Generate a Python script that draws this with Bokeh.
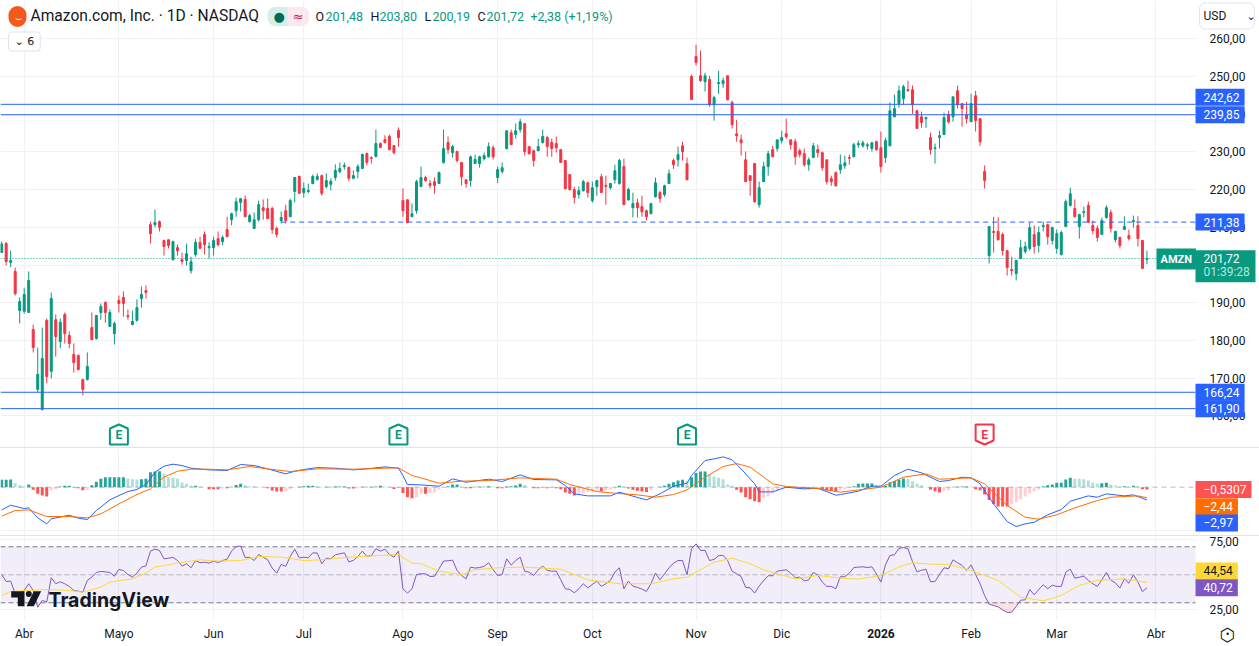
#
# Amazon daily candles with MACD and RSI panes, TradingView style
#
from bokeh.embed import file_html
from bokeh.layouts import column
from bokeh.models import FixedTicker, Label, Range1d
from bokeh.plotting import figure
from bokeh.resources import INLINE

# Bars are counted from the first trading day of April, the chart starts a bit before it
bars = list(range(-5, 250))

opens = [203.3, 205.7, 200.7, 198.3, 187.9, 187.7, 187.4, 182.9, 167.0, 161.7,
         185.3, 171.8, 185.5, 179.7, 186.9, 181.3, 176.3, 176.0, 169.6, 169.6,
         183.4, 180.5, 187.4, 190.1, 183.7, 181.8, 190.6, 191.4, 186.6, 184.2,
         185.3, 191.1, 193.2, 210.7, 210.7, 211.5, 206.5, 206.7, 201.4, 204.6,
         201.4, 201.2, 198.5, 202.8, 206.0, 208.1, 204.6, 204.6, 207.0, 206.2,
         209.4, 212.0, 214.4, 216.6, 217.4, 211.5, 209.7, 212.0, 215.2, 215.0,
         215.0, 209.7, 211.8, 214.4, 212.8, 219.5, 223.5, 219.2, 219.5, 221.6,
         222.7, 223.7, 220.8, 221.4, 223.2, 224.8, 226.1, 225.9, 223.0, 224.8,
         225.6, 229.6, 228.5, 228.8, 232.2, 233.3, 234.1, 231.7, 235.7, 217.1,
         217.3, 212.8, 214.4, 220.8, 223.2, 221.6, 222.1, 221.6, 227.2, 232.5,
         229.8, 230.1, 227.2, 222.6, 222.4, 226.9, 226.9, 228.2, 228.7, 231.1,
         223.2, 224.8, 230.9, 235.1, 234.6, 235.9, 237.5, 231.4, 230.3, 230.3,
         232.5, 233.8, 232.5, 232.2, 230.6, 227.7, 224.0, 220.0, 218.7, 219.7,
         221.8, 217.1, 220.8, 223.4, 221.1, 220.5, 222.6, 221.6, 226.1, 217.3,
         215.2, 216.5, 215.5, 214.4, 213.6, 218.1, 219.2, 218.7, 221.6, 227.7,
         227.9, 231.6, 226.9, 250.0, 255.3, 250.2, 248.6, 249.2, 242.5, 248.1,
         248.1, 250.2, 243.1, 234.8, 233.2, 227.9, 223.7, 226.9, 216.0, 222.1,
         226.1, 230.6, 230.9, 233.0, 234.8, 233.2, 232.7, 230.3, 229.5, 226.6,
         228.5, 230.6, 229.8, 227.9, 222.9, 224.5, 225.3, 226.3, 228.5, 228.7,
         231.9, 231.6, 231.6, 230.9, 232.7, 231.1, 228.5, 231.6, 239.3, 242.8,
         244.1, 246.5, 246.5, 240.9, 239.3, 238.8, 233.8, 230.9, 233.8, 234.6,
         239.9, 239.3, 246.2, 242.8, 239.9, 238.0, 244.9, 238.8, 224.8, 202.5,
         208.9, 208.9, 208.1, 203.8, 198.8, 197.7, 201.7, 203.6, 204.4, 208.1,
         205.2, 210.2, 210.7, 206.5, 204.4, 202.8, 210.2, 215.8, 215.0, 210.2,
         213.9, 215.8, 210.5, 209.7, 208.1, 212.6, 213.9, 206.7, 207.3, 209.4,
         207.8, 211.5, 210.5, 206.5, 201.48]

highs = [206.2, 206.1, 203.8, 199.3, 191.4, 194.0, 198.3, 184.2, 178.1, 183.4,
         185.8, 192.7, 186.9, 185.8, 187.4, 182.4, 179.2, 176.3, 169.6, 176.8,
         187.4, 186.6, 189.8, 190.3, 188.2, 185.0, 191.9, 193.0, 188.2, 187.9,
         190.9, 194.3, 194.6, 211.5, 214.7, 211.8, 206.7, 206.7, 206.5, 205.4,
         203.3, 205.7, 202.2, 207.0, 207.5, 208.9, 206.0, 207.5, 208.9, 207.8,
         212.8, 213.9, 217.9, 217.6, 218.4, 213.6, 213.9, 217.1, 217.4, 217.6,
         215.5, 210.2, 214.2, 216.0, 217.6, 223.2, 223.7, 221.9, 221.6, 224.0,
         224.3, 224.0, 224.3, 223.0, 226.7, 227.2, 227.2, 226.1, 225.1, 226.7,
         229.6, 229.8, 228.8, 235.9, 232.5, 234.4, 234.6, 231.7, 236.5, 220.3,
         217.3, 216.3, 222.6, 226.1, 223.7, 222.6, 223.2, 224.8, 235.9, 234.1,
         231.9, 230.3, 227.2, 222.6, 229.0, 229.3, 229.0, 229.8, 232.5, 231.7,
         226.1, 227.2, 235.6, 235.9, 237.5, 238.8, 237.5, 231.4, 230.6, 233.5,
         235.9, 234.3, 233.5, 234.1, 230.6, 227.7, 224.0, 220.8, 220.8, 222.6,
         222.1, 222.1, 222.6, 224.2, 223.7, 221.8, 226.6, 228.2, 228.2, 220.5,
         219.2, 217.6, 218.4, 214.7, 216.5, 223.2, 219.7, 221.3, 225.3, 228.2,
         231.4, 232.7, 228.5, 250.5, 258.4, 256.9, 251.0, 250.2, 244.9, 251.5,
         249.7, 250.2, 243.6, 238.5, 234.6, 230.1, 223.7, 227.1, 222.1, 227.4,
         230.3, 231.6, 233.2, 235.6, 238.8, 233.2, 233.5, 230.9, 230.9, 228.5,
         232.4, 231.9, 230.1, 227.9, 223.7, 224.8, 229.3, 229.0, 229.3, 232.4,
         233.0, 233.0, 232.4, 232.7, 233.0, 235.4, 233.8, 243.1, 245.2, 247.6,
         247.8, 248.9, 247.6, 241.2, 240.7, 239.3, 235.1, 232.2, 235.6, 240.4,
         240.9, 244.6, 247.6, 242.8, 243.3, 245.4, 246.2, 238.8, 226.4, 210.2,
         212.8, 212.6, 208.6, 203.8, 202.2, 201.4, 206.7, 206.2, 211.2, 210.5,
         210.2, 211.5, 211.0, 210.2, 209.4, 209.1, 217.4, 220.5, 217.4, 213.4,
         215.5, 216.8, 211.8, 210.5, 212.6, 215.8, 214.7, 209.1, 207.5, 212.9,
         209.4, 213.1, 212.9, 206.5, 203.8]

lows = [203.3, 199.9, 199.4, 191.9, 184.5, 187.1, 187.4, 176.8, 166.2, 161.4,
        168.6, 169.9, 175.7, 177.9, 179.2, 177.9, 171.5, 172.0, 165.4, 169.4,
        180.2, 180.2, 185.5, 184.7, 183.7, 178.9, 187.4, 186.3, 185.5, 184.0,
        185.0, 188.7, 191.1, 205.7, 210.0, 208.9, 202.5, 204.4, 201.2, 202.5,
        200.1, 199.9, 197.7, 202.2, 204.4, 202.8, 201.7, 202.5, 204.9, 205.2,
        207.5, 210.5, 212.8, 214.2, 212.8, 211.3, 209.7, 211.5, 212.0, 212.3,
        208.3, 207.3, 211.0, 211.0, 212.8, 216.6, 219.0, 217.9, 219.0, 221.4,
        222.4, 218.4, 220.3, 219.8, 222.4, 224.3, 225.3, 222.2, 222.7, 223.0,
        225.6, 226.4, 226.9, 228.5, 231.2, 232.2, 230.4, 229.3, 231.4, 212.8,
        211.2, 212.8, 213.6, 220.8, 222.1, 220.3, 218.9, 221.6, 226.9, 229.5,
        228.5, 227.2, 221.1, 220.5, 220.8, 226.9, 225.8, 227.7, 228.5, 228.0,
        221.8, 224.2, 230.6, 231.9, 233.5, 235.1, 229.0, 229.3, 226.1, 230.3,
        232.2, 228.7, 228.7, 229.8, 227.2, 220.0, 219.7, 216.3, 217.6, 219.5,
        217.9, 216.5, 218.4, 219.2, 216.0, 220.0, 221.6, 221.3, 216.0, 217.1,
        212.6, 212.6, 212.8, 211.8, 213.6, 217.9, 216.5, 218.1, 221.6, 225.5,
        226.1, 227.7, 222.6, 243.9, 252.9, 248.6, 246.0, 242.0, 238.3, 245.4,
        247.0, 243.6, 236.2, 232.7, 229.0, 222.1, 218.4, 216.5, 215.2, 222.1,
        223.7, 228.7, 230.1, 232.2, 233.5, 230.6, 226.6, 228.5, 226.1, 225.0,
        228.5, 228.5, 225.0, 221.3, 221.0, 220.8, 224.2, 225.5, 226.6, 228.7,
        231.1, 231.1, 230.6, 230.1, 230.3, 224.5, 227.1, 231.6, 239.3, 241.7,
        242.5, 246.0, 240.1, 236.2, 236.4, 236.4, 229.3, 226.9, 230.9, 234.6,
        237.5, 238.0, 241.5, 236.7, 237.5, 238.0, 235.4, 231.6, 220.3, 200.4,
        203.3, 206.5, 202.5, 197.2, 197.2, 195.9, 201.7, 203.0, 203.8, 203.0,
        203.3, 208.9, 205.4, 205.4, 203.0, 202.5, 210.2, 215.5, 212.6, 207.0,
        212.6, 211.3, 208.1, 206.2, 208.1, 212.3, 208.6, 206.0, 204.4, 209.4,
        206.5, 209.9, 204.9, 199.1, 200.19]

closes = [205.6, 200.9, 201.2, 192.4, 190.3, 192.2, 195.9, 178.1, 171.0, 175.2,
          170.4, 191.1, 181.0, 184.8, 181.8, 179.2, 174.1, 172.3, 167.0, 173.1,
          180.2, 186.6, 189.0, 187.4, 187.4, 184.5, 189.8, 189.8, 186.3, 185.0,
          188.7, 192.2, 192.7, 208.3, 211.3, 210.0, 204.9, 205.2, 206.2, 203.8,
          200.9, 203.0, 200.9, 206.0, 204.4, 205.4, 204.9, 206.5, 205.4, 207.3,
          207.5, 213.6, 216.8, 217.6, 212.8, 213.1, 212.0, 216.0, 214.4, 212.3,
          209.4, 208.1, 212.6, 211.8, 217.1, 223.2, 219.0, 220.3, 219.8, 223.5,
          223.5, 219.0, 222.4, 222.2, 225.1, 225.6, 226.4, 223.0, 223.7, 226.1,
          229.3, 227.2, 228.3, 232.2, 231.2, 232.5, 230.6, 229.8, 233.8, 214.4,
          211.2, 213.6, 222.1, 223.2, 222.4, 221.1, 221.1, 224.5, 230.9, 230.6,
          231.4, 227.7, 223.4, 221.6, 228.7, 228.0, 228.7, 229.0, 231.4, 228.7,
          225.3, 225.8, 235.6, 231.9, 235.6, 238.0, 230.1, 229.5, 227.7, 231.4,
          234.1, 231.4, 230.9, 231.1, 227.2, 220.3, 220.0, 217.9, 219.7, 222.1,
          219.2, 220.5, 222.4, 219.2, 220.8, 221.6, 225.0, 227.7, 216.0, 220.0,
          216.3, 215.2, 214.1, 212.8, 216.3, 221.8, 217.6, 221.0, 224.2, 226.6,
          229.3, 230.1, 222.6, 243.9, 253.7, 248.9, 250.2, 242.5, 244.4, 248.4,
          248.9, 243.9, 237.2, 234.3, 232.4, 222.1, 222.4, 216.8, 220.5, 226.1,
          229.5, 228.7, 233.2, 233.8, 234.0, 231.9, 228.7, 229.3, 226.6, 227.9,
          231.6, 229.8, 225.8, 222.1, 222.1, 221.0, 226.6, 227.1, 228.3, 231.9,
          232.2, 232.4, 231.9, 232.4, 230.6, 226.1, 233.0, 240.9, 241.5, 246.2,
          247.3, 246.2, 242.5, 236.2, 237.8, 239.1, 230.6, 231.1, 234.3, 239.1,
          238.0, 244.6, 242.5, 241.5, 238.8, 242.8, 238.3, 232.7, 222.4, 210.2,
          208.6, 206.7, 203.8, 199.3, 198.5, 201.2, 204.6, 204.9, 209.9, 204.9,
          208.6, 210.5, 207.5, 209.9, 208.3, 208.6, 216.8, 218.9, 212.8, 213.4,
          214.2, 211.3, 209.1, 207.3, 211.8, 215.2, 209.7, 208.9, 205.2, 210.2,
          207.0, 211.8, 207.0, 199.1, 201.72]

# Support and resistance lines
level_lines = [242.62, 239.85, 166.24, 161.90]
dashed_level = 211.38
dashed_level_start = 57
last_price = 201.72

# Earnings flags
earning_bars = [21, 83, 147, 213]
earning_beats = [True, True, True, False]

# MACD histogram for every bar
histogram = [1.71, 1.71, 1.78, .93, .47, .23, .62, -.62, -1.55, -1.94,
             -2.17, -.7, -.47, .16, .31, .31, -.08, -.23, -.7, -.62,
             .47, 1.24, 1.94, 2.33, 2.33, 2.33, 2.33, 2.33, 2.02, 1.86,
             1.78, 1.86, 1.94, 3.49, 3.64, 3.72, 3.1, 2.33, 2.17, 1.94,
             1.09, .78, .31, .31, .16, 0, -.47, -.47, -.47, -.23,
             -.23, .08, .54, .78, .47, .23, .16, .08, 0, -.23,
             -.78, -1.01, -1.01, -.93, -.47, -.08, .08, .23, .31, .31,
             .23, .08, .08, .08, .16, .16, .16, -.31, -.31, -.23,
             .08, .08, .08, .16, .31, .16, .08, -.39, .04, -1.32,
             -2.33, -2.56, -2.33, -1.55, -1.55, -1.4, -1.24, -.54, -.08, .23,
             .62, .62, .08, -.23, -.23, .08, .08, .08, .23, .16,
             -.23, -.23, .16, .23, .39, .78, .54, 0, -.23, -.23,
             -.16, -.23, -.16, -.23, -.47, -1.24, -1.55, -1.94, -1.55, -1.4,
             -1.09, -.93, -.78, -.93, -.7, -.54, -.31, .31, .16, -.31,
             -.62, -.85, -1.01, -1.09, -.62, -.08, .08, .31, .78, 1.16,
             1.55, 1.71, 1.4, 2.33, 3.33, 3.64, 3.64, 2.95, 2.48, 2.17,
             1.86, .62, .31, -.62, -1.24, -2.33, -2.79, -3.26, -3.49, -2.48,
             -2.17, -1.4, -.78, -.23, 0, -.16, -.16, -.31, -.31, -.47,
             -.23, -.16, -.62, -.78, -.85, -.93, -.7, -.54, -.16, .23,
             .78, .85, .85, .85, .47, .31, .31, 1.09, 1.47, 1.71,
             2.02, 1.94, 1.4, .78, .39, 0, -.54, -.93, -1.24, -.85,
             -.7, .08, .08, .16, .16, .08, -.47, -.7, -1.71, -2.95,
             -3.88, -4.5, -4.5, -4.5, -3.88, -3.49, -2.79, -2.17, -1.47, -.93,
             -.62, .23, .47, .62, 1.01, 1.01, 1.78, 2.17, 2.02, 1.94,
             1.86, 1.55, 1.09, .78, .93, 1.01, .62, .39, .16, .23,
             .08, .31, .23, -.47, -.53]

# MACD and signal, read at the bars where the lines bend
macd_bars = [-5, -3, 0, 1, 3, 5, 6, 10, 12, 14, 16, 19, 21, 23, 25, 27, 29, 31, 33, 35,
             37, 41, 45, 48, 51, 54, 58, 60, 62, 65, 69, 73, 76, 80, 83, 84, 85, 88,
             92, 95, 98, 103, 106, 110, 113, 118, 120, 122, 125, 130, 132, 135, 138, 141,
             144, 147, 148, 151, 153, 155, 157, 159, 162, 163, 166, 169, 173, 176, 180, 181,
             185, 188, 190, 193, 196, 199, 203, 205, 208, 210, 212, 215, 218, 220, 222, 224,
             227, 230, 232, 236, 238, 240, 244, 246, 249]
macd_values = [-5.27, -4.19, -4.96, -4.81, -7.13, -8.53, -7.36, -6.51, -7.21, -7.52,
               -5.43, -2.95, -1.94, -1.01, -.54, .62, 3.49, 4.88, 5.35, 5.04,
               4.42, 4.03, 3.88, 5.27, 5.04, 4.26, 3.10, 3.72, 4.11, 4.57,
               4.42, 4.03, 4.26, 4.73, 4.42, 2.71, .62, .54,
               .23, 1.94, 1.16, 1.86, 1.32, 2.87, 1.78, 1.71, .39, -1.55, -2.02, -2.02,
               -1.16, -2.09, -2.95, -1.55, .23, .93, 2.71, 6.2, 6.59, 7.05, 6.36, 4.26,
               .78, -1.09, -1.09, 0, -.39, -.23, -1.86, -1.71,
               -.93, .23, .23, 2.71, 4.19, 3.33, 1.32, 1.55, 2.33, 2.17, .78, -3.88,
               -7.98, -9.15, -8.53, -8.14, -6.43, -5.19, -3.26, -2.02, -2.33, -1.55,
               -2.02, -1.78, -2.97]
signal_bars = [-5, -2, 1, 5, 10, 14, 17, 21, 25, 28, 31, 34, 37, 41, 45, 50, 54, 59, 65, 73,
               83, 86, 88, 92, 97, 103, 110, 118, 121, 127, 131, 136, 140, 144, 147, 151,
               155, 158, 161, 166, 169, 176, 181, 190, 195, 200, 203, 210, 213, 218, 222,
               225, 229, 233, 238, 241, 247, 249]
signal_values = [-6.74, -5.43, -5.27, -6.82, -6.82, -7.13, -6.2, -3.88, -1.71, -.39,
                 2.33, 3.72, 4.19, 4.19, 4.03, 4.81, 4.26, 3.64, 4.26, 4.19,
                 4.5, 2.71, 2.17, .93, 1.4, 1.55, 2.17, 1.86, .62, -1.01, -1.4, -1.78,
                 -2.33, -1.71, -.62, 2.33, 4.81, 5.5, 4.65, .78, .16, -.31, -1.16, 0,
                 2.33, 3.1, 1.86, 2.17, .78, -4.26, -6.98, -7.44, -6.43, -4.81, -3.1,
                 -2.33, -2.02, -2.44]

# RSI for every bar
rsi = [50.2, 45.2, 45.5, 36.4, 36.0, 38.8, 43.6, 38.8, 26.9, 31.7,
       30.5, 47.9, 43.6, 45.0, 43.6, 41.7, 38.8, 38.3, 37.6, 46.0,
       48.3, 51.7, 52.4, 52.1, 51.7, 49.0, 53.8, 53.1, 50.2, 48.3,
       51.2, 55.5, 56.4, 66.9, 68.3, 67.4, 61.4, 61.9, 62.4, 60.2,
       56.2, 57.9, 55.0, 60.2, 58.6, 59.0, 58.3, 59.8, 58.8, 60.2,
       61.2, 66.9, 70.2, 70.5, 62.4, 62.4, 60.2, 64.5, 62.6, 60.7,
       54.8, 51.2, 57.4, 56.0, 63.1, 68.3, 62.1, 62.6, 62.1, 65.7,
       65.5, 57.9, 61.9, 61.4, 64.3, 65.0, 65.7, 59.3, 60.2, 63.1,
       66.9, 63.1, 63.8, 68.6, 66.9, 68.3, 64.5, 62.6, 66.9, 40.0,
       36.9, 40.0, 50.2, 50.7, 50.7, 48.8, 49.0, 54.3, 59.8, 60.0,
       60.5, 53.1, 49.5, 47.1, 55.5, 54.8, 55.2, 56.0, 58.6, 53.6,
       49.5, 50.2, 61.4, 56.9, 60.2, 62.6, 52.6, 51.9, 49.5, 53.6,
       56.2, 53.1, 52.6, 52.6, 46.4, 40.0, 39.5, 37.1, 40.0, 43.6,
       40.7, 43.1, 45.5, 41.7, 43.6, 46.0, 51.9, 55.0, 40.0, 45.5,
       41.9, 41.0, 39.8, 38.1, 43.6, 51.2, 46.4, 50.7, 55.0, 58.3,
       60.2, 60.2, 50.0, 68.6, 72.1, 67.4, 67.4, 60.2, 61.0, 63.6,
       64.0, 60.2, 52.6, 50.7, 48.8, 41.0, 40.7, 36.9, 41.9, 46.0,
       49.3, 49.3, 52.6, 53.1, 53.6, 51.2, 47.9, 48.3, 45.7, 46.4,
       51.7, 49.8, 44.8, 41.7, 41.7, 40.0, 48.6, 48.6, 51.2, 55.2,
       55.5, 55.7, 55.2, 55.7, 50.7, 44.8, 57.1, 63.8, 64.3, 68.8,
       69.5, 68.6, 59.5, 52.1, 53.3, 53.8, 45.0, 45.2, 50.2, 55.0,
       54.3, 60.7, 58.6, 56.7, 53.1, 57.1, 50.2, 43.6, 35.2, 29.0,
       28.1, 27.1, 25.0, 23.1, 23.3, 27.4, 31.9, 32.1, 39.5, 35.7,
       39.5, 42.9, 40.0, 42.6, 41.7, 41.7, 51.9, 54.0, 47.6, 48.3,
       49.0, 46.0, 43.6, 41.7, 46.4, 51.7, 46.0, 44.3, 40.5, 47.1,
       44.0, 50.0, 44.8, 37.9, 40.72]

# RSI moving average, read at the bars where it bends
rsi_ma_bars = [-5, -3, 1, 5, 10, 13, 17, 19, 24, 27, 29, 34, 39, 43, 48, 52, 57, 62, 66, 72,
               79, 83, 86, 88, 92, 97, 100, 105, 111, 119, 125, 132, 139, 144, 147, 153,
               157, 161, 164, 171, 176, 181, 185, 190, 194, 197, 201, 205, 210, 216, 221,
               226, 230, 234, 238, 244, 249]
rsi_ma_values = [35.2, 38.1, 38.8, 39.5, 38.8, 37.6, 41.2, 44.8, 47.1, 51.2, 55.5, 58.3,
                 60.7, 59.8, 60.2, 63.1, 62.6, 60.2, 60.7, 62.6, 63.8, 64.5, 58.3, 57.9,
                 52.6, 50.2, 53.6, 55.0, 55.5, 54.0, 46.4, 43.6, 43.6, 47.1, 48.3, 59.0,
                 61.9, 57.9, 53.6, 47.1, 49.5, 47.6, 46.9, 49.5, 55.5, 58.6, 57.6, 57.4,
                 53.1, 46.0, 34.0, 31.4, 35.2, 42.4, 46.0, 47.1, 44.54]

# Axis ticks and labels
month_ticks = [0, 21, 42, 62, 84, 105, 126, 149, 168, 190, 210, 229, 251]
month_labels = ['Abr', 'Mayo', 'Jun', 'Jul', 'Ago', 'Sep', 'Oct', 'Nov', 'Dic', '', 'Feb', 'Mar', 'Abr']
year_tick = 190
year_label = '2026'
price_ticks = [160, 170, 180, 190, 200, 210, 220, 230, 240, 250, 260]
price_tick_labels = ['160,00', '170,00', '180,00', '190,00', '200,00', '210,00', '220,00',
                     '230,00', '240,00', '250,00', '260,00']
# The -10 label sits behind the value tags in this pane, only its grid line shows
macd_ticks = [-10]
macd_tick_labels = ['']
rsi_ticks = [25, 75]
rsi_tick_labels = ['25,00', '75,00']

GREEN = '#089981'
RED = '#F23645'
BLUE = '#2962FF'
ORANGE = '#FF6D00'
PURPLE = '#7E57C2'
YELLOW = '#FDD835'
GRID = '#f1f1f1'
INK = '#131722'
FONT = 'Roboto'

# These helpers turn window pixels into chart values for the decorations
def barAt(px):
    return (px - 23.7) / 4.509

def priceAt(py):
    return 160 + (415.3 - py) / 3.77

def macdAt(py):
    return (486.7 - py) / 4.3

def rsiAt(py):
    return 70 - (py - 546.3) / 1.4

PLOT_LEFT = barAt(0)
PLOT_RIGHT = barAt(1195)
x_range = Range1d(barAt(0), barAt(1259))

# The frame fills each pane, the value axis is pinned inside it so tags can sit on top
def makePane(height, y_range, ticks, tick_labels):
    p = figure(width=1259, height=height, x_range=x_range, y_range=y_range,
               output_backend='svg', toolbar_location=None, tools='',
               y_axis_location='right',
               min_border_left=0, min_border_top=0, min_border_bottom=0, min_border_right=0)
    p.outline_line_color = None
    p.background_fill_color = 'white'
    p.xgrid.ticker = FixedTicker(ticks=month_ticks)
    p.ygrid.ticker = FixedTicker(ticks=ticks)
    p.xgrid.grid_line_color = GRID
    p.ygrid.grid_line_color = GRID
    p.ygrid.cross_bounds = (PLOT_LEFT, PLOT_RIGHT)
    p.yaxis.fixed_location = PLOT_RIGHT
    p.yaxis.ticker = FixedTicker(ticks=ticks)
    p.yaxis.major_label_overrides = dict(zip(ticks, tick_labels))
    p.yaxis.axis_line_color = None
    p.yaxis.major_tick_line_color = None
    p.yaxis.minor_tick_line_color = None
    p.yaxis.major_label_standoff = 8
    p.yaxis.major_label_text_font = FONT
    p.yaxis.major_label_text_font_size = '12px'
    p.yaxis.major_label_text_color = INK
    p.xaxis.visible = False
    return p

def addText(p, x, y, text, color=INK, size='12px', font=FONT, **kw):
    p.add_layout(Label(x=x, y=y, text=text, text_color=color, text_font=font,
                       text_font_size=size, text_baseline='middle', **kw))

# Coloured value tag on the right axis, padding runs left, right, top, bottom
def addTag(p, y, text, color, y_offset=0, text_color='white'):
    addText(p, barAt(1195), y, text, color=text_color, y_offset=y_offset,
            background_fill_color=color, padding=(8, 5, 4, 4))

def addLevel(p, y, **kw):
    p.line([PLOT_LEFT, PLOT_RIGHT], [y, y], line_width=1, **kw)

#
# Price pane
#
p1 = makePane(447, Range1d(priceAt(447), priceAt(0)), price_ticks, price_tick_labels)

bar_colors = [GREEN if c >= o else RED for o, c in zip(opens, closes)]
p1.segment(bars, lows, bars, highs, line_color=bar_colors, line_width=1)
p1.vbar(x=bars, bottom=opens, top=closes, width=0.44, fill_color=bar_colors, line_color=bar_colors, line_width=1)

for level in level_lines:
    addLevel(p1, level, line_color=BLUE)
p1.line([dashed_level_start, PLOT_RIGHT], [dashed_level, dashed_level], line_color=BLUE, line_width=1, line_dash=[5, 4])
addLevel(p1, last_price, line_color=GREEN, line_dash=[1, 2])

# Earnings flags sit just above the MACD pane
flag_outline = [(-9, -6), (0, -10), (9, -6), (9, 10), (-9, 10)]
for bar, beat in zip(earning_bars, earning_beats):
    color = GREEN if beat else RED
    flip = 1 if beat else -1
    p1.patch([bar + dx / 4.509 for dx, dy in flag_outline],
             [priceAt(434 + flip * dy) for dx, dy in flag_outline],
             fill_color='white', line_color=color, line_width=2)
    addText(p1, bar, priceAt(434.5), 'E', color=color, text_align='center', text_font_style='bold')

addTag(p1, 242.62, '242,62', BLUE, y_offset=7)
addTag(p1, 239.85, '239,85', BLUE)
addTag(p1, dashed_level, '211,38', BLUE)
addTag(p1, 166.24, '166,24', BLUE)
addTag(p1, 161.90, '161,90', BLUE)

# Last price block: ticker tag, price and countdown
addText(p1, barAt(1156), priceAt(258.6), 'AMZN', color='white', size='11px', text_font_style='bold',
        background_fill_color=GREEN, padding=(4, 4, 4, 4))
addText(p1, barAt(1195), priceAt(265.8), ' ', color='white', background_fill_color=GREEN, padding=(8, 49, 9, 9))
addText(p1, barAt(1203), priceAt(257.5), '201,72', color='white')
addText(p1, barAt(1203), priceAt(271.7), '01:39:28', color='#b8e6dc')

# Header line
addText(p1, barAt(8), priceAt(16), '\u2323', color='white', size='11px', font='DejaVu Sans',
        background_fill_color='#F4581C', border_radius=9, padding=(6, 5, 5, 3))
addText(p1, barAt(30), priceAt(15.5), 'Amazon.com, Inc. \u00b7 1D \u00b7 NASDAQ', size='15.6px')
addText(p1, barAt(267), priceAt(16), '\u25cf', color='#006A58', size='13px', font='DejaVu Sans',
        background_fill_color='#D5EEE9', border_radius=(8, 0, 0, 8), padding=(6, 6, 2, 2))
addText(p1, barAt(287), priceAt(16), '\u2248', color='#C2185B', size='13px', font='DejaVu Sans',
        background_fill_color='#FCE8EF', border_radius=(0, 8, 8, 0), padding=(5, 6, 2, 2))
ohlc_letters = [('O', 315), ('H', 370), ('L', 424), ('C', 477)]
ohlc_values = [('201,48', 325), ('203,80', 379), ('200,19', 432), ('201,72', 486)]
for letter, px in ohlc_letters:
    addText(p1, barAt(px), priceAt(15.5), letter, size='12.5px')
for value, px in ohlc_values:
    addText(p1, barAt(px), priceAt(15.5), value, color=GREEN, size='12.5px')
addText(p1, barAt(530), priceAt(15.5), '+2,38 (+1,19%)', color=GREEN, size='12.5px')

# Collapsed indicators button and currency selector
addText(p1, barAt(8), priceAt(41), '\u2304 6', size='11px', font='DejaVu Sans',
        border_line_color='#e0e3eb', background_fill_color='white', border_radius=3, padding=(6, 6, 3, 3))
addText(p1, barAt(1199), priceAt(15.5), 'USD', border_line_color='#e0e3eb',
        background_fill_color='white', border_radius=6, padding=(4, 28, 6, 6))
addText(p1, barAt(1246), priceAt(15.5), '\u2304', size='11px', font='DejaVu Sans')

#
# MACD pane, the top border pushes its canvas down by a pixel
#
p2 = makePane(88, Range1d(macdAt(536), macdAt(448)), macd_ticks, macd_tick_labels)
p2.styles = {'border-top': '1px solid #e0e3eb', 'box-sizing': 'border-box'}

hist_colors = []
previous = 0
for value in histogram:
    if value >= 0:
        hist_colors.append('#26A69A' if value >= previous else '#B2DFDB')
    else:
        hist_colors.append('#FF5252' if value <= previous else '#FFCDD2')
    previous = value
p2.vbar(x=bars, bottom=0, top=histogram, width=0.66, fill_color=hist_colors, line_color=None)
addLevel(p2, 0, line_color='#787B86', line_alpha=0.5, line_dash=[5, 4])
p2.line(macd_bars, macd_values, line_color=BLUE, line_width=1)
p2.line(signal_bars, signal_values, line_color=ORANGE, line_width=1)

addTag(p2, histogram[-1], '\u22120,5307', '#FF5252')
addTag(p2, signal_values[-1], '\u22122,44', ORANGE, y_offset=-9)
addTag(p2, macd_values[-1], '\u22122,97', BLUE, y_offset=-23)

#
# RSI pane, carries the time axis
#
p3 = makePane(111, Range1d(rsiAt(647), rsiAt(536)), rsi_ticks, rsi_tick_labels)
p3.styles = {'border-top': '1px solid #e0e3eb', 'box-sizing': 'border-box'}
p3.xgrid.cross_bounds = (rsiAt(620), rsiAt(536))
p3.xaxis.visible = True
p3.xaxis.fixed_location = rsiAt(620)
p3.xaxis.ticker = FixedTicker(ticks=month_ticks)
p3.xaxis.major_label_overrides = dict(zip(month_ticks, month_labels))
p3.xaxis.axis_line_color = None
p3.xaxis.major_tick_line_color = None
p3.xaxis.minor_tick_line_color = None
p3.xaxis.major_label_standoff = 0
p3.xaxis.major_label_text_font = FONT
p3.xaxis.major_label_text_font_size = '12px'
p3.xaxis.major_label_text_color = INK

p3.harea(y=[30, 70], x1=[PLOT_LEFT, PLOT_LEFT], x2=[PLOT_RIGHT, PLOT_RIGHT], fill_color=PURPLE, fill_alpha=0.1)
p3.varea(x=bars, y1=[30] * len(bars), y2=[min(r, 30) for r in rsi], fill_color='#F23645', fill_alpha=0.15)
p3.varea(x=bars, y1=[70] * len(bars), y2=[max(r, 70) for r in rsi], fill_color='#089981', fill_alpha=0.15)
for level in [70, 50, 30]:
    addLevel(p3, level, line_color='#787B86', line_alpha=0.5 if level == 50 else 1, line_dash=[5, 3])
p3.line(bars, rsi, line_color=PURPLE, line_width=1)
p3.line(rsi_ma_bars, rsi_ma_values, line_color=YELLOW, line_width=1)

addTag(p3, rsi_ma_values[-1], '44,54', YELLOW, y_offset=11.5, text_color=INK)
addTag(p3, rsi[-1], '40,72', PURPLE)

# Bold year on the time axis
addText(p3, year_tick, rsiAt(633), year_label, text_align='center', text_font_style='bold')

# Watermark
logo_t = [(10.7, 590.7), (24, 590.7), (24, 605.7), (17.3, 605.7), (17.3, 597), (10.7, 597)]
logo_v = [(33.3, 590.7), (40.7, 590.7), (33.3, 605.7), (26, 605.7)]
p3.patch([barAt(a) for a, b in logo_t], [rsiAt(b) for a, b in logo_t], fill_color=INK, line_color=None)
p3.patch([barAt(a) for a, b in logo_v], [rsiAt(b) for a, b in logo_v], fill_color=INK, line_color=None)
p3.scatter([barAt(28.3)], [rsiAt(593.5)], size=6, marker='circle', fill_color=INK, line_color=None)
addText(p3, barAt(48), rsiAt(599), 'TradingView', size='19.5px', font='Inter', text_font_style='bold')

# Settings button in the corner
addText(p3, barAt(1227), rsiAt(633.5), '\u2b21', size='18px', font='DejaVu Sans', text_align='center')
addText(p3, barAt(1227), rsiAt(634), '\u2022', size='8px', font='DejaVu Sans', text_align='center')

layout = column(p1, p2, p3)
open("out.html", "w").write(file_html(layout, INLINE))
